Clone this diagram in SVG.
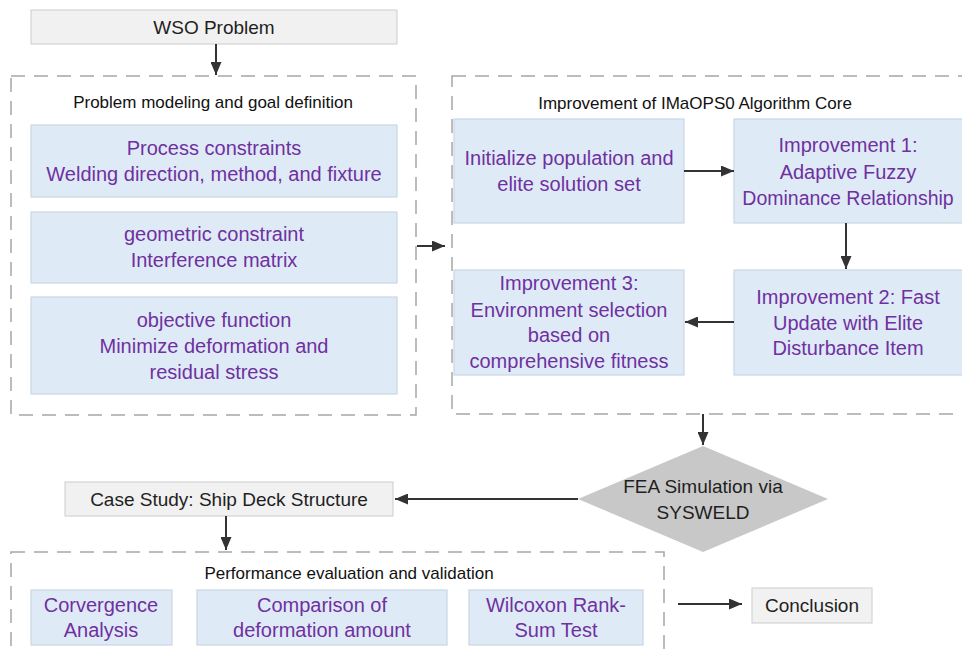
<svg xmlns="http://www.w3.org/2000/svg" width="962" height="654" viewBox="0 0 962 654">
<style>
  .bg{fill:#ffffff}
  .grp{fill:none;stroke:#a6a6a6;stroke-width:1.5;stroke-dasharray:14 9}
  .blue{fill:#deebf7;stroke:#c9d7e6;stroke-width:1.2}
  .gray{fill:#f1f1f1;stroke:#d4d4d4;stroke-width:1.2}
  .dia{fill:#c8c8c8;stroke:none}
  .t{font-family:"Liberation Sans",Arial,sans-serif;text-anchor:middle;dominant-baseline:central}
  .p{fill:#7030a0;font-size:20px}
  .d{fill:#1f1f1f}
  .title{fill:#111;font-size:17px}
  .conn line{stroke:#333;stroke-width:2}
</style>
<defs>
  <marker id="ah" viewBox="0 0 13 11" refX="13" refY="5.5" markerWidth="6.5" markerHeight="5.5" markerUnits="strokeWidth" orient="auto">
    <path d="M0,0 L13,5.5 L0,11 z" fill="#333"/>
  </marker>
</defs>
<rect class="bg" x="0" y="0" width="962" height="654"/>

<g id="group-modeling">
  <rect class="grp" x="11" y="76" width="405" height="339"/>
  <text class="t title" x="213" y="102">Problem modeling and goal definition</text>
</g>
<g id="group-core">
  <rect class="grp" x="452" y="76" width="530" height="338"/>
  <text class="t title" x="695" y="103">Improvement of IMaOPS0 Algorithm Core</text>
</g>
<g id="group-eval">
  <rect class="grp" x="11" y="552" width="653" height="130"/>
  <text class="t title" x="349" y="573">Performance evaluation and validation</text>
</g>

<g id="wso">
  <rect class="gray" x="31" y="10" width="366" height="34"/>
  <text class="t d" x="214" y="27" style="font-size:19px">WSO Problem</text>
</g>
<g id="process">
  <rect class="blue" x="31" y="125" width="366" height="72"/>
  <text class="t p" x="214" y="148">Process constraints</text>
  <text class="t p" x="214" y="174">Welding direction, method, and fixture</text>
</g>
<g id="geometric">
  <rect class="blue" x="31" y="212" width="366" height="71"/>
  <text class="t p" x="214" y="234">geometric constraint</text>
  <text class="t p" x="214" y="260">Interference matrix</text>
</g>
<g id="objective">
  <rect class="blue" x="31" y="297" width="366" height="97"/>
  <text class="t p" x="214" y="320">objective function</text>
  <text class="t p" x="214" y="346">Minimize deformation and</text>
  <text class="t p" x="214" y="372">residual stress</text>
</g>

<g id="init">
  <rect class="blue" x="454" y="119" width="230" height="104"/>
  <text class="t p" x="569" y="158">Initialize population and</text>
  <text class="t p" x="569" y="184">elite solution set</text>
</g>
<g id="imp1">
  <rect class="blue" x="734" y="119" width="232" height="104"/>
  <text class="t p" x="848" y="145">Improvement 1:</text>
  <text class="t p" x="848" y="172">Adaptive Fuzzy</text>
  <text class="t p" x="848" y="198" style="font-size:19.5px">Dominance Relationship</text>
</g>
<g id="imp2">
  <rect class="blue" x="734" y="270" width="232" height="105"/>
  <text class="t p" x="848" y="297">Improvement 2: Fast</text>
  <text class="t p" x="848" y="323">Update with Elite</text>
  <text class="t p" x="848" y="348">Disturbance Item</text>
</g>
<g id="imp3">
  <rect class="blue" x="454" y="270" width="230" height="105"/>
  <text class="t p" x="569" y="283">Improvement 3:</text>
  <text class="t p" x="569" y="310">Environment selection</text>
  <text class="t p" x="569" y="335">based on</text>
  <text class="t p" x="569" y="361">comprehensive fitness</text>
</g>

<g id="fea">
  <polygon class="dia" points="703,446 828,499 703,552 578,499"/>
  <text class="t d" x="703" y="486" style="font-size:19px">FEA Simulation via</text>
  <text class="t d" x="703" y="512" style="font-size:19px">SYSWELD</text>
</g>
<g id="case">
  <rect class="gray" x="65" y="482" width="328" height="34"/>
  <text class="t d" x="229" y="499" style="font-size:19px">Case Study: Ship Deck Structure</text>
</g>
<g id="conv">
  <rect class="blue" x="31" y="590" width="141" height="55"/>
  <text class="t p" x="101" y="605">Corvergence</text>
  <text class="t p" x="101" y="630">Analysis</text>
</g>
<g id="comp">
  <rect class="blue" x="197" y="590" width="250" height="55"/>
  <text class="t p" x="322" y="605">Comparison of</text>
  <text class="t p" x="322" y="630">deformation amount</text>
</g>
<g id="wilcoxon">
  <rect class="blue" x="469" y="590" width="174" height="55"/>
  <text class="t p" x="556" y="605">Wilcoxon Rank-</text>
  <text class="t p" x="556" y="630">Sum Test</text>
</g>
<g id="conclusion">
  <rect class="gray" x="752" y="588" width="120" height="35"/>
  <text class="t d" x="812" y="605" style="font-size:19px">Conclusion</text>
</g>

<g id="connectors" class="conn">
  <line x1="216" y1="44" x2="216" y2="75" marker-end="url(#ah)"/>
  <line x1="417" y1="246" x2="445" y2="246" marker-end="url(#ah)"/>
  <line x1="684" y1="171" x2="734" y2="171" marker-end="url(#ah)"/>
  <line x1="846" y1="223" x2="846" y2="269" marker-end="url(#ah)"/>
  <line x1="734" y1="322" x2="685" y2="322" marker-end="url(#ah)"/>
  <line x1="703" y1="414" x2="703" y2="445" marker-end="url(#ah)"/>
  <line x1="578" y1="499" x2="395" y2="499" marker-end="url(#ah)"/>
  <line x1="226" y1="516" x2="226" y2="550" marker-end="url(#ah)"/>
  <line x1="678" y1="604" x2="742" y2="604" marker-end="url(#ah)"/>
</g>
</svg>
